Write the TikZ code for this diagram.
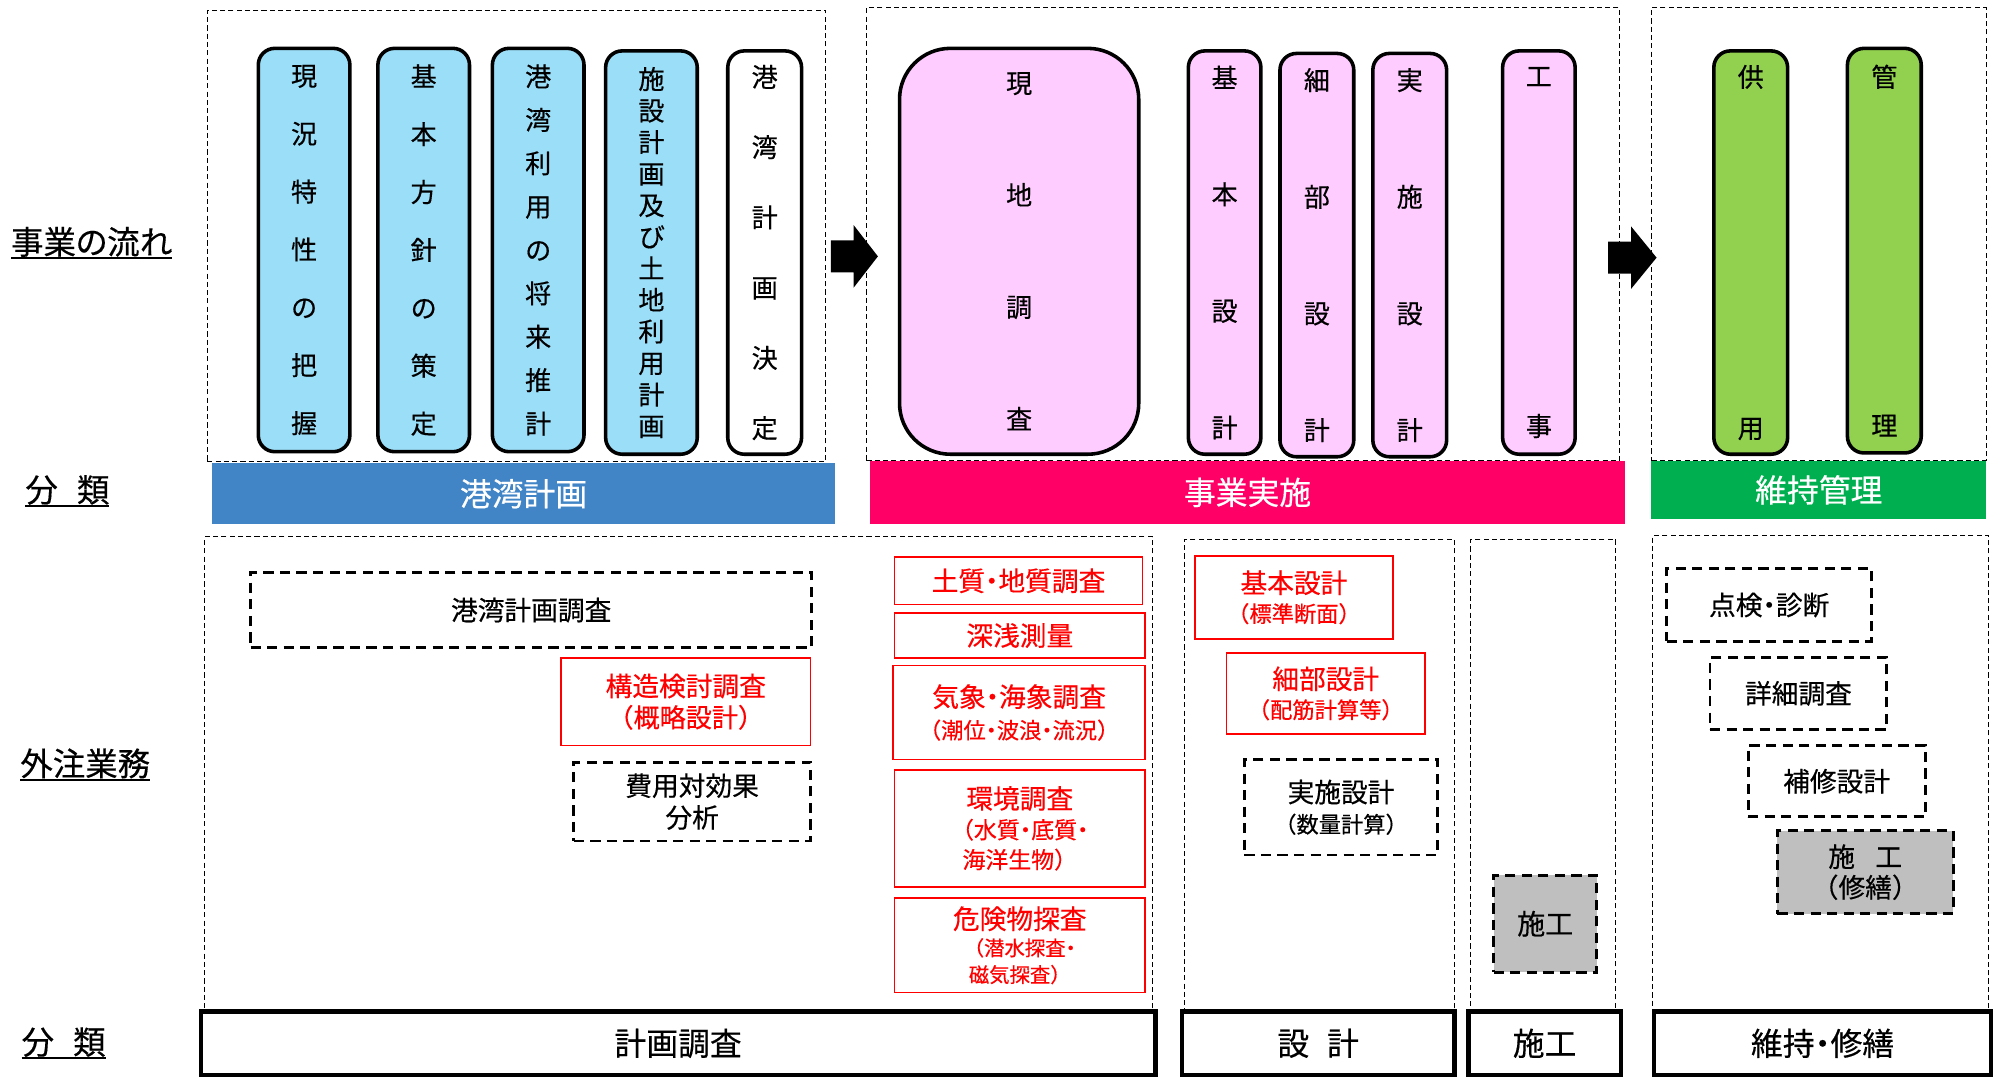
\documentclass[tikz,border=0pt]{standalone}
\usepackage{fontspec}
\setmainfont{Noto Sans CJK JP}[RawFeature=+palt,FakeBold=0.4]
\newfontfamily\jpfw{Noto Sans CJK JP}[FakeBold=0.4]
\definecolor{colblue}{RGB}{155,222,248}
\definecolor{colpink}{RGB}{255,204,255}
\definecolor{colgreen}{RGB}{146,208,80}
\definecolor{barblue}{RGB}{66,133,198}
\definecolor{barpink}{RGB}{255,0,102}
\definecolor{bargreen}{RGB}{0,176,80}
\definecolor{boxgray}{RGB}{191,191,191}
\newcommand\mybox[7]{\node[#1,minimum width={(#5-#3)*1pt},minimum height={(#6-#4)*1pt}] (#2) at ({(#3+#5)/2},{(#4+#6)/2}) {#7};}
\newcommand\fs[2]{\fontsize{#1}{#2}\selectfont}
\newcommand\ulx[1]{\setbox0=\hbox{#1}\leavevmode\rlap{\rule[-4pt]{\wd0}{1.8pt}}\box0}
\newcommand\lp{{\jpfw （}}
\newcommand\rp{{\jpfw ）}}
\begin{document}
\begin{tikzpicture}[x=1pt,y=-1pt,
 every node/.style={inner sep=0pt,outer sep=0pt},
 region/.style={draw,line width=0.8pt,dash pattern=on 4pt off 2.5pt},
 col/.style={draw,line width=2.8pt,rounded corners=13pt,align=center},
 bar/.style={text=white,font=\fs{25}{30}},
 redbox/.style={draw=red,line width=1.3pt,text=red,align=center},
 dbox/.style={draw,line width=2.3pt,dash pattern=on 8pt off 5pt,align=center},
 catbox/.style={draw,line width=3.5pt,font=\fs{25}{30}},
 lbl/.style={font=\fs{25.5}{30}},
]
\useasboundingbox[fill=white] (0,0) rectangle (1568,846);

% left labels
\node[lbl] (flow) at (72,191) {\ulx{事業の流れ}};
\node[lbl] (cls1) at (53,386) {\ulx{分\hspace{15pt}類}};
\node[lbl] (gaichu) at (67,601) {\ulx{外注業務}};
\node[lbl] (cls2) at (50,820) {\ulx{分\hspace{15pt}類}};

% bars
\mybox{bar,fill=barblue}{barA}{167}{364}{656}{412}{港湾計画}
\mybox{bar,fill=barpink}{barB}{684}{362}{1277}{412}{事業実施}
\mybox{bar,fill=bargreen}{barC}{1298}{362}{1561}{408}{維持管理}

% top regions
\mybox{region}{R1}{163}{8}{649}{363}{}
\mybox{region}{R2}{681}{6}{1273}{362}{}
\mybox{region}{R3}{1298}{6}{1561}{362}{}

% columns: planning
\mybox{col,fill=colblue,font=\fs{20.5}{45.5}}{c1}{203}{38}{275}{355}{現\\況\\特\\性\\の\\把\\握}
\mybox{col,fill=colblue,font=\fs{20.5}{45.5}}{c2}{297}{38}{369}{355}{基\\本\\方\\針\\の\\策\\定}
\mybox{col,fill=colblue,font=\fs{20.5}{34.1}}{c3}{387}{38}{459}{355}{港\\湾\\利\\用\\の\\将\\来\\推\\計}
\mybox{col,fill=colblue,font=\fs{20.5}{24.8}}{c4}{476}{40}{548}{357}{施\\設\\計\\画\\及\\び\\土\\地\\利\\用\\計\\画}
\mybox{col,fill=white,font=\fs{20.5}{55.2}}{c5}{572}{40}{630}{357}{港\\湾\\計\\画\\決\\定}

% columns: implementation
\mybox{col,rounded corners=40pt,fill=colpink,font=\fs{20.5}{88}}{d1}{707}{38}{895}{357}{現\\地\\調\\査}
\mybox{col,fill=colpink,font=\fs{20.5}{91.7}}{d2}{934}{40}{991}{357}{基\\本\\設\\計}
\mybox{col,fill=colpink,font=\fs{20.5}{91.7}}{d3}{1006}{42}{1064}{359}{細\\部\\設\\計}
\mybox{col,fill=colpink,font=\fs{20.5}{91.7}}{d4}{1079}{42}{1137}{359}{実\\施\\設\\計}
\mybox{col,fill=colpink,font=\fs{20.5}{275}}{d5}{1181}{40}{1238}{357}{工\\事}

% columns: maintenance
\mybox{col,fill=colgreen,font=\fs{20.5}{276}}{e1}{1347}{40}{1405}{357}{供\\用}
\mybox{col,fill=colgreen,font=\fs{20.5}{274}}{e2}{1452}{38}{1510}{356}{管\\理}

% block arrows
\fill (653,189) -- (671,189) -- (671,177) -- (690,201.5) -- (671,226) -- (671,214) -- (653,214) -- cycle;
\fill (1264,190) -- (1282,190) -- (1282,178) -- (1302,202.5) -- (1282,227) -- (1282,215) -- (1264,215) -- cycle;

% bottom regions
\mybox{region}{B1}{161}{422}{906}{795}{}
\mybox{region}{B2}{931}{424}{1143}{795}{}
\mybox{region}{B3}{1156}{424}{1270}{795}{}
\mybox{region}{B4}{1299}{421}{1563}{795}{}

% category boxes
\mybox{catbox,fill=white}{k1}{158}{795}{908}{845}{計画調査}
\mybox{catbox,fill=white}{k2}{929}{795}{1143}{845}{設\hspace{14pt}計}
\mybox{catbox,fill=white}{k3}{1154}{795}{1274}{845}{施工}
\mybox{catbox,fill=white}{k4}{1300}{795}{1565}{845}{維持・修繕}

% planning survey items
\mybox{dbox,font=\fs{21}{24}}{kpc}{197}{450}{638}{509}{港湾計画調査}
\mybox{redbox,font=\fs{21}{24.5}}{kozo}{441}{517}{637}{586}{構造検討調査\\{\fs{20.5}{24.5}\lp 概略設計\rp}}
\mybox{dbox,font=\fs{21}{25}}{hiyo}{451}{599}{637}{661}{費用対効果\\分析}
\mybox{redbox,font=\fs{21}{24}}{doshitsu}{703}{438}{898}{475}{土質・地質調査}
\mybox{redbox,font=\fs{21}{24}}{shinsen}{703}{482}{900}{517}{深浅測量}
\mybox{redbox,font=\fs{21}{25}}{kisho}{702}{523}{900}{597}{気象・海象調査\\{\fs{17.5}{25}\lp 潮位・波浪・流況\rp}}
\mybox{redbox,font=\fs{18}{23.5}}{kankyo}{703}{605}{900}{697}{{\fs{21}{24}環境調査}\\\lp 水質・底質・\\海洋生物\rp}
\mybox{redbox,font=\fs{16}{21}}{kiken}{703}{706}{900}{780}{{\fs{21}{24}危険物探査}\\\lp 潜水探査・\\磁気探査\rp}

% design items
\mybox{redbox,font=\fs{21}{23}}{kihonS}{939}{437}{1095}{502}{基本設計\\{\fs{17.5}{23}\lp 標準断面\rp}}
\mybox{redbox,font=\fs{21}{23}}{saibuS}{964}{513}{1120}{577}{細部設計\\{\fs{17.5}{23}\lp 配筋計算等\rp}}
\mybox{dbox,font=\fs{21}{24}}{jisshiS}{978}{597}{1130}{672}{実施設計\\{\fs{17.5}{24}\lp 数量計算\rp}}

% construction
\mybox{dbox,fill=boxgray,font=\fs{22}{24}}{sekoA}{1174}{688}{1255}{764}{施工}

% maintenance items
\mybox{dbox,font=\fs{21}{24}}{tenken}{1310}{447}{1471}{504}{点検・診断}
\mybox{dbox,font=\fs{21}{24}}{shosai}{1344}{517}{1483}{573}{詳細調査}
\mybox{dbox,font=\fs{21}{24}}{hoshu}{1374}{586}{1513}{642}{補修設計}
\mybox{dbox,fill=boxgray,font=\fs{21}{24}}{sekoB}{1397}{653}{1535}{718}{施\hspace{16pt}工\\\lp 修繕\rp}
\end{tikzpicture}
\end{document}
